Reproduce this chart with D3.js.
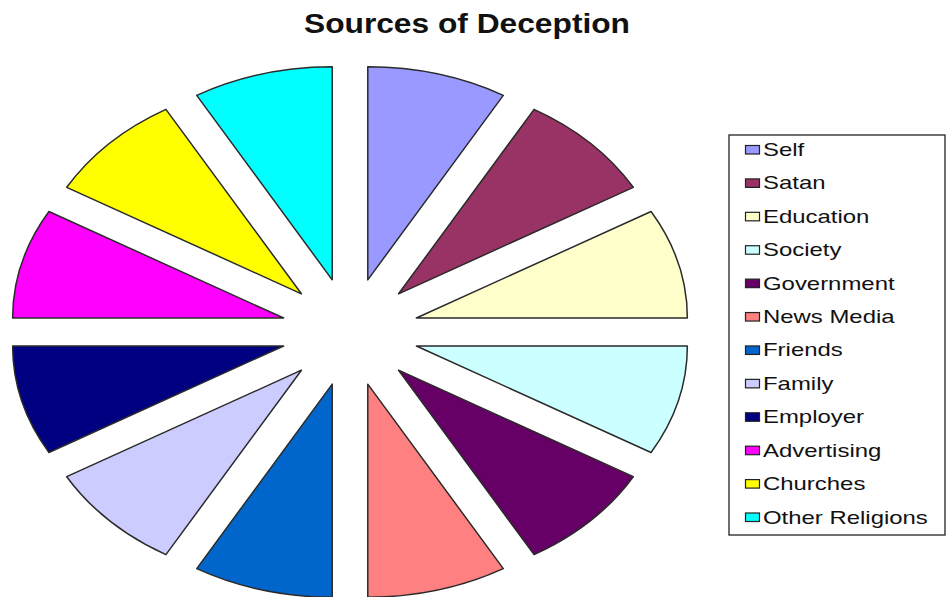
<!DOCTYPE html>
<html>
<head>
<meta charset="utf-8">
<script src="https://cdn.jsdelivr.net/npm/d3@7"></script>
<style>
  body { margin: 0; background: #fff; }
  text { font-family: "Liberation Sans", Arial, sans-serif; }
</style>
</head>
<body>
<script>
// pie chart data - all sources get an equal share
const sources = ["Self", "Satan", "Education", "Society", "Government", "News Media",
                 "Friends", "Family", "Employer", "Advertising", "Churches", "Other Religions"];
const shares = [1, 1, 1, 1, 1, 1, 1, 1, 1, 1, 1, 1];
const colors = ["#9999FF", "#993366", "#FFFFCC", "#CCFFFF", "#660066", "#FF8080",
                "#0066CC", "#CCCCFF", "#000080", "#FF00FF", "#FFFF00", "#00FFFF"];

const W = 951, H = 597;
const cx = 350, cy = 332;
const ry = 213, rx = 271;     // pie is stretched sideways
const explode = 54;

var svg = d3.select("body").append("svg")
    .attr("width", W)
    .attr("height", H);

svg.append("text")
    .attr("x", 467)
    .attr("y", 33)
    .attr("text-anchor", "middle")
    .attr("font-size", 28)
    .attr("font-weight", "bold")
    .attr("textLength", 326)
    .attr("lengthAdjust", "spacingAndGlyphs")
    .attr("fill", "#111")
    .text("Sources of Deception");

const pie = d3.pie().sort(null).value(d => d.v);
const arcs = pie(sources.map((s, i) => ({name: s, v: shares[i], color: colors[i]})));
const arc = d3.arc().innerRadius(0).outerRadius(ry);

const g = svg.append("g")
    .attr("transform", `translate(${cx},${cy}) scale(${rx / ry},1)`);

g.selectAll("path")
    .data(arcs)
    .enter()
    .append("path")
    .attr("transform", function(d) {
        const m = (d.startAngle + d.endAngle) / 2;
        return `translate(${explode * Math.sin(m)},${-explode * Math.cos(m)})`;
    })
    .attr("d", arc)
    .attr("fill", d => d.data.color)
    .attr("stroke", "#2a2a2a")
    .attr("stroke-width", 1.5)
    .attr("stroke-linejoin", "round")
    .attr("vector-effect", "non-scaling-stroke");

// legend
const lx = 729, ly = 135, lw = 216, lh = 400;
const y = d3.scalePoint().domain(sources).range([149.5, 517]);

svg.append("rect")
    .attr("x", lx).attr("y", ly)
    .attr("width", lw).attr("height", lh)
    .attr("fill", "#fff")
    .attr("stroke", "#222")
    .attr("stroke-width", 1.3);

const items = svg.selectAll(".item")
    .data(sources)
    .enter()
    .append("g")
    .attr("class", "item")
    .attr("transform", d => `translate(0,${y(d)})`);

items.append("rect")
    .attr("x", 745.5)
    .attr("y", -4)
    .attr("width", 14)
    .attr("height", 8.5)
    .attr("fill", (d, i) => colors[i])
    .attr("stroke", "#222")
    .attr("stroke-width", 1.2);

items.append("text")
    .attr("transform", "translate(763,6.5) scale(1.33,1)")
    .attr("font-size", 18)
    .attr("fill", "#111")
    .text(d => d);
</script>
</body>
</html>
